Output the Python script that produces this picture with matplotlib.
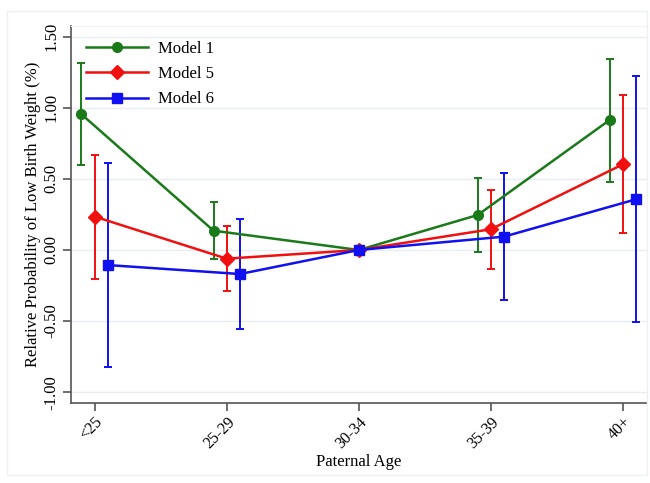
import matplotlib
matplotlib.use("Agg")
import matplotlib.pyplot as plt
import numpy as np
from matplotlib.patches import Rectangle

age_groups = ["<25", "25-29", "30-34", "35-39", "40+"]

model1 = [0.955, 0.136, 0.0, 0.246, 0.915]
model1_lo = [0.600, -0.066, 0.0, -0.014, 0.481]
model1_hi = [1.315, 0.340, 0.0, 0.505, 1.343]

model5 = [0.235, -0.061, 0.0, 0.146, 0.603]
model5_lo = [-0.204, -0.291, 0.0, -0.134, 0.117]
model5_hi = [0.669, 0.169, 0.0, 0.423, 1.092]

model6 = [-0.106, -0.169, 0.0, 0.094, 0.357]
model6_lo = [-0.826, -0.556, 0.0, -0.352, -0.507]
model6_hi = [0.610, 0.216, 0.0, 0.540, 1.225]

series = [
    ("Model 1", model1, model1_lo, model1_hi, "#1a7a1a", "o", 7, -0.1),
    ("Model 5", model5, model5_lo, model5_hi, "#f01010", "D", 7, 0.0),
    ("Model 6", model6, model6_lo, model6_hi, "#1010f0", "s", 7, 0.1),
]

plt.rcParams["font.family"] = ["Liberation Serif", "DejaVu Serif"]

fig = plt.figure(figsize=(6.5, 4.83), dpi=100)
ax = fig.add_axes([0.109, 0.166, 0.886, 0.780])

# faint outer frame
fig.patches.append(Rectangle((7 / 650, 8 / 483), 640 / 650, 464 / 483, transform=fig.transFigure,
                             fill=False, edgecolor="#eef0f4", linewidth=1))

x = np.arange(len(age_groups))
for name, vals, lo, hi, color, marker, ms, off in series:
    vals = np.array(vals)
    lo = np.array(lo)
    hi = np.array(hi)
    xs = x + np.where(vals == 0, 0.0, off)
    ax.errorbar(xs, vals, yerr=[vals - lo, hi - vals], fmt="none", ecolor=color,
                elinewidth=1.4, capsize=2.6, capthick=1.4, zorder=2)
    ax.plot(xs, vals, color=color, marker=marker, markersize=ms, linewidth=1.8,
            label=name, zorder=3)

ax.set_xlim(-0.18, 4.18)
ax.set_ylim(-1.075, 1.575)
ax.set_xticks(x)
ax.set_xticklabels(age_groups, rotation=45, ha="right", rotation_mode="anchor", fontsize=11.5)
yt = [-1.0, -0.5, 0.0, 0.5, 1.0, 1.5]
ax.set_yticks(yt)
ax.set_yticklabels([f"{v:.2f}" for v in yt], rotation=90, va="center", fontsize=12)
ax.grid(axis="y", color="#e8eef4", linewidth=1)
ax.set_axisbelow(True)

for s in ["top", "right"]:
    ax.spines[s].set_color("#f0f2f6")
for s in ["left", "bottom"]:
    ax.spines[s].set_color("#555555")
    ax.spines[s].set_linewidth(1.2)
ax.tick_params(colors="#555555", length=6, width=1.2, labelcolor="black", pad=2)

ax.set_xlabel("Paternal Age", fontsize=12)
ax.xaxis.set_label_coords(0.5, -0.135)
ax.set_ylabel("Relative Probability of Low Birth Weight (%)", fontsize=12)
ax.yaxis.set_label_coords(-0.051, 0.5)

ax.legend(loc="upper left", frameon=False, fontsize=12, handlelength=3.7,
          handletextpad=0.6, borderaxespad=0.5, labelspacing=0.55)

fig.savefig("out.png", dpi=100, facecolor="white")
